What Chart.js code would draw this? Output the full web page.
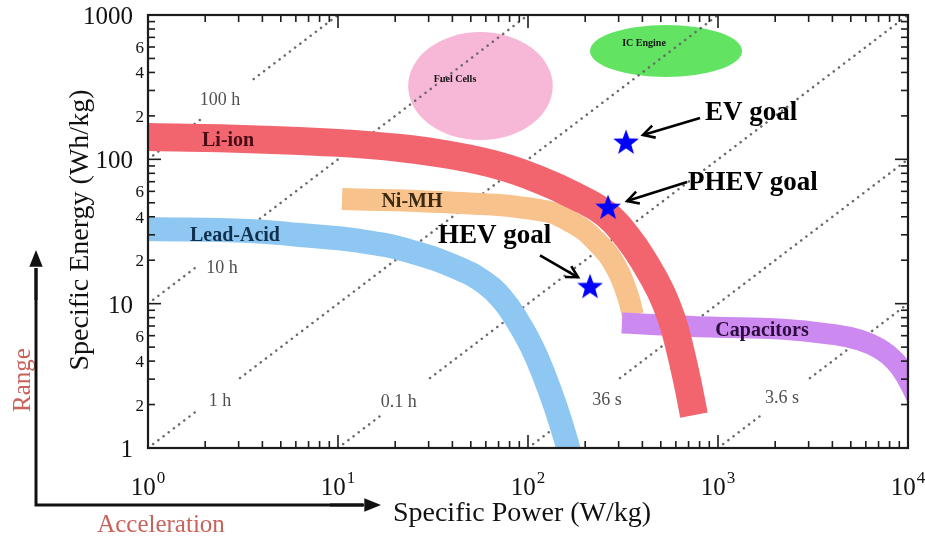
<!DOCTYPE html>
<html>
<head>
<meta charset="utf-8">
<script src="https://cdn.jsdelivr.net/npm/chart.js@4.4.1/dist/chart.umd.min.js"></script>
<style>
  html, body { margin: 0; padding: 0; background: #fff; }
  canvas { display: block; }
</style>
</head>
<body>
<canvas id="ragone" width="925" height="537"></canvas>
<script>
// Ragone plot: specific energy (Wh/kg) vs specific power (W/kg), both log
const liIonPower = [1, 3.44, 10, 21.2, 38.9, 71.2, 115.7, 176.8, 257, 336, 413, 501, 572.8, 623.4, 687, 747]
const liIonEnergy = [142.7, 138, 130, 119.8, 107, 89.9, 71.9, 55.7, 41.8, 28.5, 19.1, 12.03, 7.7, 5.17, 2.95, 1.69]

const niMhPower = [10.5, 34.4, 115.7, 172.5, 230.7, 287, 332, 357]
const niMhEnergy = [53.1, 50.6, 44.5, 36.2, 26.7, 18.5, 11.8, 8.3]

const leadAcidPower = [1, 3.44, 6.31, 13.06, 23.9, 43.9, 59.4, 73.0, 87.5, 103.7, 121.4, 140.4, 158.5, 168.4]
const leadAcidEnergy = [32.9, 31.9, 29.9, 27.2, 23.1, 17.4, 13.9, 10.8, 7.7, 5.17, 3.2, 1.89, 1.134, 0.824]

const capPower = [312, 908, 2120, 3886, 5589, 7122, 8543, 9879, 11290]
const capEnergy = [7.34, 6.88, 6.67, 6.16, 5.59, 4.85, 4.0, 3.05, 2.15]

const goalNames = ['EV goal', 'PHEV goal', 'HEV goal']
const goalPower = [328, 264, 212]
const goalEnergy = [132, 46.7, 13.2]

const regionNames = ['Fuel Cells', 'IC Engine']
const regionPower = [[23.4, 135], [212, 1338]]
const regionEnergy = [[136, 762], [372, 853]]
const regionLabelPower = [41.3, 408]
const regionLabelEnergy = [360, 640]

// constant discharge-time lines, [power, energy] pairs, null = gap for the label
const timeLabels = ['100 h', '10 h', '1 h', '0.1 h', '36 s', '3.6 s']
const timeLines = [
  [[1, 100], [1.95, 195], [2.6, null], [3.6, 360], [10, 1000]],
  [[1, 10], [1.81, 18.1], [2.6, null], [3.88, 38.8], [100, 1000]],
  [[1, 1], [1.81, 1.81], [2.4, null], [3.05, 3.05], [1000, 1000]],
  [[10, 1], [17.3, 1.73], [23, null], [30.5, 3.05], [10000, 1000]],
  [[100, 1], [143.8, 1.438], [210, null], [305, 3.05], [10000, 100]],
  [[1000, 1], [1726, 1.726], [2300, null], [3049, 3.049], [10000, 10]]
]
const timeLabelPower = [2.39, 2.45, 2.39, 20.9, 260.5, 2172]
const timeLabelEnergy = [257, 17.6, 2.11, 2.08, 2.15, 2.22]

const bandNames = ['Li-ion', 'Ni-MH', 'Lead-Acid', 'Capacitors']
const bandLabelPower = [2.64, 24.5, 2.87, 1705]
const bandLabelEnergy = [134, 50.6, 29.4, 6.46]

const xMajorTicks = [1, 10, 100, 1000, 10000]
const xExponents = ['0', '1', '2', '3', '4']
const yMajorTicks = [1, 10, 100, 1000]
const yMinorLabels = [2, 4, 6, 20, 40, 60, 200, 400, 600]
const minorSteps = [2, 3, 4, 5, 6, 7, 8, 9]

const serif = "'Liberation Serif', 'Times New Roman', serif"
const bandColors = ['#f2656f', '#f8c28c', '#8fc7f3', '#cc8af0']
const bandTextColors = ['#4a0c14', '#3b2910', '#10304e', '#2c0b3e']
const regionColors = ['#f7b7d7', '#62e462']

const starImg = (() => {
  const c = document.createElement('canvas')
  c.width = c.height = 28
  const g = c.getContext('2d')
  g.fillStyle = '#0000ff'
  g.beginPath()
  for (let i = 0; i < 10; i++) {
    const r = i % 2 ? 5.6 : 13.5
    const a = -Math.PI / 2 + i * Math.PI / 5
    g.lineTo(14 + r * Math.cos(a), 15 + r * Math.sin(a))
  }
  g.closePath()
  g.fill()
  return c
})()

function band(i, power, energy, width, order) {
  return {
    label: bandNames[i],
    order,
    data: power.map((p, k) => ({x: p, y: energy[k]})),
    borderColor: bandColors[i],
    borderWidth: width,
    borderCapStyle: 'butt',
    borderJoinStyle: 'round',
    tension: 0.45,
    pointRadius: 0,
    fill: false,
    clip: 0
  }
}

const datasets = [
  {
    label: 'goals',
    order: 0,
    data: goalPower.map((p, k) => ({x: p, y: goalEnergy[k]})),
    showLine: false,
    pointStyle: starImg,
    pointRadius: 13,
    clip: false
  },
  band(0, liIonPower, liIonEnergy, 28, 1),
  band(3, capPower, capEnergy, 21, 2),
  band(1, niMhPower, niMhEnergy, 22, 3),
  band(2, leadAcidPower, leadAcidEnergy, 24, 4)
].concat(timeLines.map((pts, i) => ({
  label: timeLabels[i],
  order: 10,
  data: pts.map(p => ({x: p[0], y: p[1]})),
  borderColor: '#6a6a6a',
  borderWidth: 2.5,
  borderDash: [0.1, 6.4],
  borderCapStyle: 'round',
  pointRadius: 0,
  tension: 0,
  spanGaps: false,
  clip: 0
})))

const goalCallouts = [
  {text: [79, -22], from: [74, -24], to: [17, -7]},
  {text: [80, -17], from: [79, -25], to: [19, -6]},
  {text: [-152, -43], from: [-50, -31], to: [-12, -9]}
]

function arrow(ctx, x0, y0, x1, y1, head, filled) {
  const a = Math.atan2(y1 - y0, x1 - x0)
  ctx.beginPath()
  ctx.moveTo(x0, y0)
  ctx.lineTo(filled ? x1 - head * Math.cos(a) : x1, filled ? y1 - head * Math.sin(a) : y1)
  ctx.stroke()
  const s = filled ? 0.38 : 0.5
  ctx.beginPath()
  ctx.moveTo(x1 - head * Math.cos(a - s), y1 - head * Math.sin(a - s))
  ctx.lineTo(x1, y1)
  ctx.lineTo(x1 - head * Math.cos(a + s), y1 - head * Math.sin(a + s))
  if (filled) { ctx.closePath(); ctx.fill() } else ctx.stroke()
}

const decorations = {
  id: 'decorations',
  beforeDatasetsDraw(chart) {
    const {ctx, scales: {x, y}} = chart
    ctx.save()
    regionNames.forEach((name, i) => {
      const x0 = x.getPixelForValue(regionPower[i][0])
      const x1 = x.getPixelForValue(regionPower[i][1])
      const y0 = y.getPixelForValue(regionEnergy[i][0])
      const y1 = y.getPixelForValue(regionEnergy[i][1])
      ctx.fillStyle = regionColors[i]
      ctx.beginPath()
      ctx.ellipse((x0 + x1) / 2, (y0 + y1) / 2, Math.abs(x1 - x0) / 2, Math.abs(y1 - y0) / 2, 0, 0, Math.PI * 2)
      ctx.fill()
    })
    ctx.restore()
  },
  afterDatasetsDraw(chart) {
    const {ctx, chartArea: {left, right, top, bottom}, scales: {x, y}} = chart
    ctx.save()

    // frame and inward ticks on all four sides
    ctx.strokeStyle = '#1c1c1c'
    ctx.lineWidth = 1.6
    const seg = (a, b, c, d) => { ctx.beginPath(); ctx.moveTo(a, b); ctx.lineTo(c, d); ctx.stroke() }
    xMajorTicks.forEach((v, i) => {
      const steps = i < xMajorTicks.length - 1 ? [1].concat(minorSteps) : [1]
      steps.forEach(s => {
        const px = x.getPixelForValue(v * s)
        const len = s === 1 ? 13 : 7
        seg(px, bottom, px, bottom - len)
        seg(px, top, px, top + len)
      })
    })
    yMajorTicks.forEach((v, i) => {
      const steps = i < yMajorTicks.length - 1 ? [1].concat(minorSteps) : [1]
      steps.forEach(s => {
        const py = y.getPixelForValue(v * s)
        const len = s === 1 ? 13 : 7
        seg(left, py, left + len, py)
        seg(right, py, right - len, py)
      })
    })
    ctx.lineWidth = 2.2
    ctx.strokeRect(left, top, right - left, bottom - top)

    // tick labels
    ctx.fillStyle = '#111'
    ctx.textBaseline = 'alphabetic'
    ctx.textAlign = 'right'
    ctx.font = `25px ${serif}`
    yMajorTicks.forEach(v => ctx.fillText(String(v), left - 15, y.getPixelForValue(v) + 9))
    ctx.font = `17px ${serif}`
    yMinorLabels.forEach(v => ctx.fillText(String(v).charAt(0), left - 4, y.getPixelForValue(v) + 6))
    ctx.textAlign = 'left'
    xMajorTicks.forEach((v, i) => {
      const px = x.getPixelForValue(v)
      ctx.font = `25px ${serif}`
      const wBase = ctx.measureText('10').width
      ctx.font = `17px ${serif}`
      const wExp = ctx.measureText(xExponents[i]).width
      const x0 = px - (wBase + wExp + 1) / 2
      ctx.font = `25px ${serif}`
      ctx.fillText('10', x0, 495)
      ctx.font = `17px ${serif}`
      ctx.fillText(xExponents[i], x0 + wBase + 1, 483)
    })

    // axis titles
    ctx.textAlign = 'center'
    ctx.font = `28px ${serif}`
    ctx.fillText('Specific Power (W/kg)', 522, 521)
    ctx.save()
    ctx.translate(88, 230)
    ctx.rotate(-Math.PI / 2)
    ctx.fillText('Specific Energy (Wh/kg)', 0, 0)
    ctx.restore()

    // range / acceleration arrows
    ctx.fillStyle = '#c8625b'
    ctx.font = `25px ${serif}`
    ctx.fillText('Acceleration', 161, 532)
    ctx.save()
    ctx.translate(30, 380)
    ctx.rotate(-Math.PI / 2)
    ctx.fillText('Range', 0, 0)
    ctx.restore()
    ctx.strokeStyle = '#111'
    ctx.fillStyle = '#111'
    ctx.lineWidth = 3
    ctx.beginPath()
    ctx.moveTo(36, 268)
    ctx.lineTo(36, 505)
    ctx.lineTo(364, 505)
    ctx.stroke()
    arrow(ctx, 36, 300, 36, 250, 18, true)
    arrow(ctx, 330, 505, 381, 505, 18, true)

    // discharge time labels
    ctx.fillStyle = '#4f4f4f'
    ctx.font = `18px ${serif}`
    ctx.textBaseline = 'middle'
    timeLabels.forEach((t, i) => {
      ctx.fillText(t, x.getPixelForValue(timeLabelPower[i]), y.getPixelForValue(timeLabelEnergy[i]))
    })

    // band names
    ctx.font = `bold 20px ${serif}`
    bandNames.forEach((n, i) => {
      ctx.fillStyle = bandTextColors[i]
      ctx.fillText(n, x.getPixelForValue(bandLabelPower[i]), y.getPixelForValue(bandLabelEnergy[i]))
    })

    // region names
    ctx.fillStyle = '#111'
    ctx.font = `bold 10px ${serif}`
    regionNames.forEach((n, i) => {
      ctx.fillText(n, x.getPixelForValue(regionLabelPower[i]), y.getPixelForValue(regionLabelEnergy[i]))
    })

    // goal callouts
    ctx.textAlign = 'left'
    ctx.textBaseline = 'alphabetic'
    ctx.font = `bold 27px ${serif}`
    ctx.strokeStyle = '#000'
    ctx.lineWidth = 2.6
    goalNames.forEach((n, i) => {
      const px = x.getPixelForValue(goalPower[i])
      const py = y.getPixelForValue(goalEnergy[i])
      const c = goalCallouts[i]
      ctx.fillStyle = '#000'
      ctx.fillText(n, px + c.text[0], py + c.text[1])
      arrow(ctx, px + c.from[0], py + c.from[1], px + c.to[0], py + c.to[1], 13, false)
    })
    ctx.restore()
  }
}

new Chart(document.querySelector('#ragone'), {
  type: 'line',
  data: { datasets },
  options: {
    responsive: false,
    animation: false,
    events: [],
    layout: { padding: { left: 148, top: 15, right: 17, bottom: 89 } },
    plugins: { legend: { display: false }, tooltip: { enabled: false } },
    scales: {
      x: { type: 'logarithmic', min: 1, max: 10000, display: false },
      y: { type: 'logarithmic', min: 1, max: 1000, display: false }
    }
  },
  plugins: [decorations]
})
</script>
</body>
</html>
